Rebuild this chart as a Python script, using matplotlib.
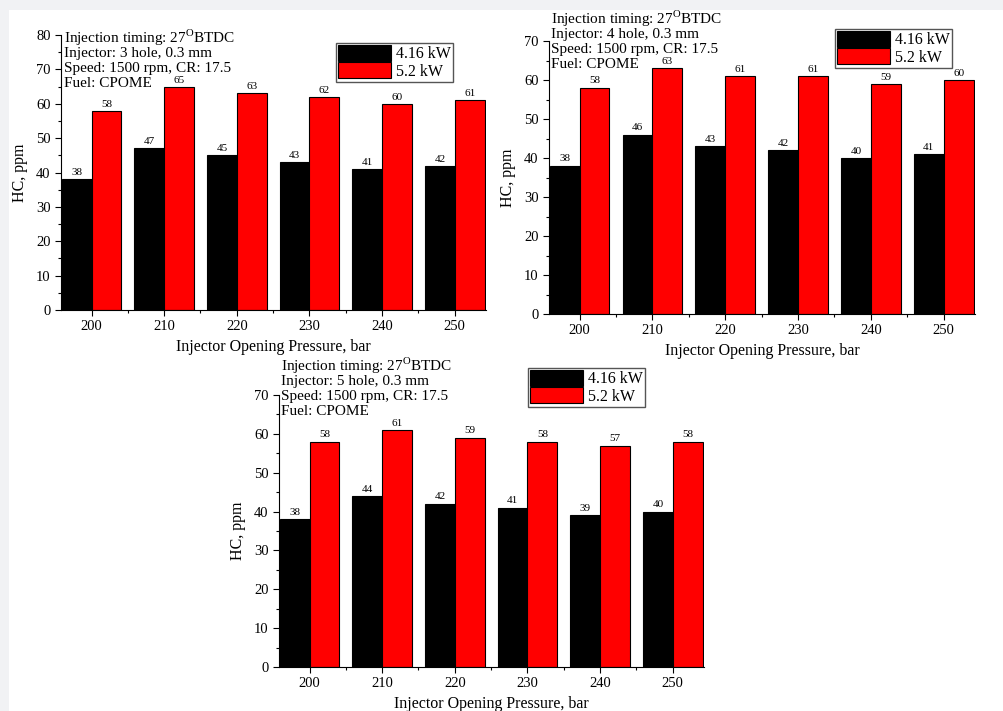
import numpy as np
import matplotlib.pyplot as plt
from matplotlib.patches import Rectangle
from matplotlib.ticker import MultipleLocator

plt.rcParams['font.family'] = ['Liberation Serif', 'DejaVu Serif']
plt.rcParams['mathtext.fontset'] = 'custom'
plt.rcParams['mathtext.rm'] = 'Liberation Serif'

# Injector opening pressure (bar)
pressure = [200, 210, 220, 230, 240, 250]

# HC emissions (ppm) for each injector configuration
hc_3hole_low = [38, 47, 45, 43, 41, 42]
hc_3hole_high = [58, 65, 63, 62, 60, 61]
hc_4hole_low = [38, 46, 43, 42, 40, 41]
hc_4hole_high = [58, 63, 61, 61, 59, 60]
hc_5hole_low = [38, 44, 42, 41, 39, 40]
hc_5hole_high = [58, 61, 59, 58, 57, 58]

load_labels = ['4.16 kW', '5.2 kW']
holes = ['3 hole', '4 hole', '5 hole']

W, H = 1004, 711
fig = plt.figure(figsize=(W / 100, H / 100), dpi=100, facecolor='#f1f2f4')
fig.patches.append(Rectangle((9 / W, 0), 1 - 9 / W, 1 - 10 / H, transform=fig.transFigure,
                             facecolor='white', edgecolor='none', zorder=-1))


def px_axes(x0, y0, x1, y1):
    return fig.add_axes([x0 / W, 1 - y1 / H, (x1 - x0) / W, (y1 - y0) / H])


def draw_panel(ax, low, high, ymax, hole, note_xy, leg_box):
    bw = 4.1
    x = np.array(pressure, dtype=float)
    b1 = ax.bar(x - bw / 2, low, width=bw, color='black', edgecolor='black', linewidth=0.8)
    b2 = ax.bar(x + bw / 2, high, width=bw, color='#ff0000', edgecolor='black', linewidth=0.8)
    for xi, v in zip(x, low):
        ax.text(xi - bw / 2, v + 0.6, str(v), ha='center', va='bottom', fontsize=8)
    for xi, v in zip(x, high):
        ax.text(xi + bw / 2, v + 0.6, str(v), ha='center', va='bottom', fontsize=8)

    ax.set_xlim(195.8, 254.3)
    ax.set_ylim(0, ymax)
    ax.set_xticks(pressure)
    ax.xaxis.set_minor_locator(MultipleLocator(5))
    ax.yaxis.set_major_locator(MultipleLocator(10))
    ax.yaxis.set_minor_locator(MultipleLocator(5))
    ax.tick_params(which='major', direction='out', length=4, width=0.8, labelsize=10.5)
    ax.tick_params(which='minor', direction='out', length=2.5, width=0.8)
    for s in ['top', 'right']:
        ax.spines[s].set_visible(False)
    ax.set_ylabel('HC, ppm', fontsize=11.5, labelpad=6)
    ax.set_xlabel('Injector Opening Pressure, bar', fontsize=11.5, labelpad=4)

    # condition notes, one line each so the spacing stays even
    lines = ['Injection timing: 27$^{\\mathrm{O}}$BTDC',
             'Injector: ' + hole + ', 0.3 mm',
             'Speed: 1500 rpm, CR: 17.5',
             'Fuel: CPOME']
    for i, line in enumerate(lines):
        fig.text(note_xy[0] / W, 1 - (note_xy[1] + 15.3 * i) / H, line,
                 ha='left', va='center', fontsize=11)

    lx0, ly0, lx1, ly1 = leg_box
    fig.legend([b1, b2], load_labels, loc='upper left',
               bbox_to_anchor=(lx0 / W, 1 - ly0 / H), fontsize=11.5,
               frameon=True, fancybox=False, edgecolor='#555555', framealpha=1,
               borderpad=0.15, labelspacing=0.0, handlelength=3.3, handleheight=1.1,
               handletextpad=0.3, borderaxespad=0)


ax1 = px_axes(61, 35, 486, 310)
draw_panel(ax1, hc_3hole_low, hc_3hole_high, 80, holes[0], (64, 38), (336, 43, 447, 79))

ax2 = px_axes(549, 41, 975, 314)
draw_panel(ax2, hc_4hole_low, hc_4hole_high, 70, holes[1], (551, 19), (835, 29, 947, 64))

ax3 = px_axes(279, 395, 704, 667)
draw_panel(ax3, hc_5hole_low, hc_5hole_high, 70, holes[2], (281, 366), (528, 368, 641, 403))

fig.savefig('out.png', dpi=100, facecolor=fig.get_facecolor())
